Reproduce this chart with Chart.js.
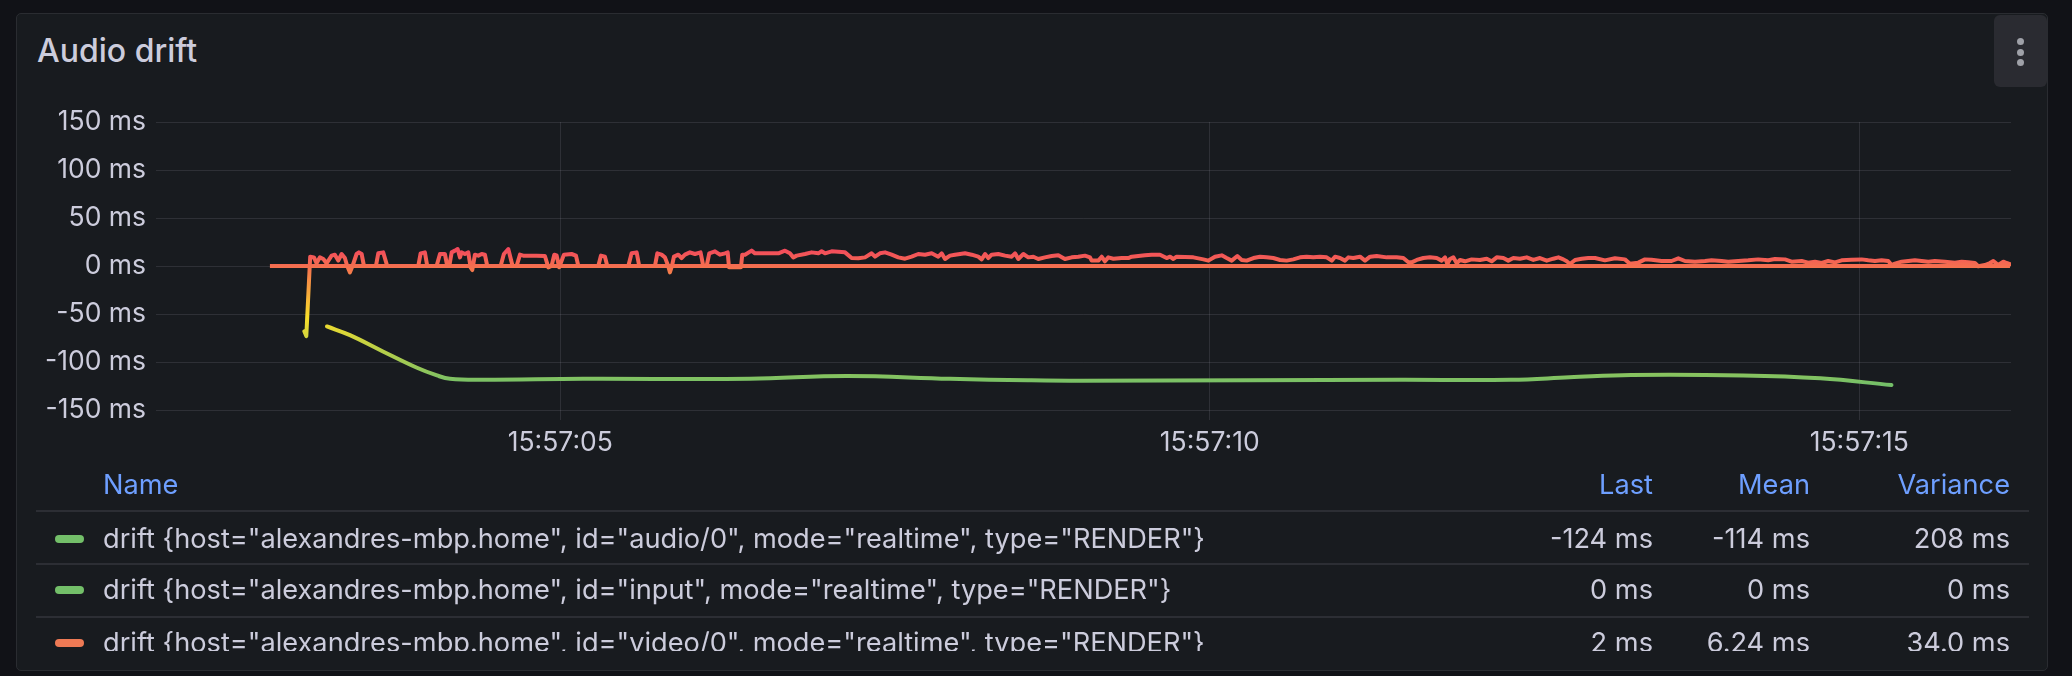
<!DOCTYPE html>
<html><head><meta charset="utf-8">
<script src="https://cdn.jsdelivr.net/npm/chart.js@4.4.1/dist/chart.umd.min.js"></script>
<style>
html,body{margin:0;padding:0;background:#111217;width:2072px;height:676px;overflow:hidden;font-family:Inter,"Noto Sans",sans-serif;}
#panel{position:absolute;left:16px;top:13px;width:2032px;height:658px;box-sizing:border-box;background:#181b1f;border:1px solid #2a2c31;border-radius:5px;}
#title{position:absolute;left:37px;top:32px;font-size:32px;line-height:38px;font-weight:500;color:#ccccdc;white-space:nowrap;}
#menu{position:absolute;left:1994px;top:15px;width:53px;height:72px;background:#2a2b31;border-radius:6px;}
#menu i{position:absolute;left:23px;width:7px;height:7px;border-radius:50%;background:#9fa1a8;}
#chart{position:absolute;left:0;top:0;}
#legend{position:absolute;left:0;top:455px;width:2072px;height:196px;overflow:hidden;}
.lt{position:absolute;font-size:27.2px;line-height:32px;white-space:nowrap;color:#ccccdc;}
.hd{color:#6e9fff;}
.sep{position:absolute;left:36px;width:1993px;height:2px;background:#2c2e34;}
.dash{position:absolute;left:55px;width:29px;height:8px;border-radius:4px;}
</style></head>
<body>
<div id="panel"></div>
<div id="title">Audio drift</div>
<div id="menu"><i style="top:23px"></i><i style="top:34px"></i><i style="top:44px"></i></div>
<canvas id="chart" width="2072" height="470"></canvas>
<div id="legend"></div>
<script>
// ---- data (seconds after 15:57:00, values in ms) ----
const timePrefix = "15:57:";
const xMin = 1.888, xMax = 16.168;
const yTickValues = [-150, -100, -50, 0, 50, 100, 150];

const videoTimes = [3.030,3.045,3.075,3.104,3.124,3.150,3.176,3.201,3.240,3.265,3.291,3.317,3.342,3.360,3.381,3.401,3.432,3.450,3.471,3.489,3.581,3.599,3.637,3.668,3.907,3.925,3.958,3.976,4.048,4.074,4.112,4.130,4.146,4.164,4.189,4.210,4.228,4.240,4.266,4.292,4.310,4.323,4.343,4.369,4.395,4.420,4.438,4.541,4.566,4.600,4.633,4.664,4.690,4.715,4.818,4.882,4.908,4.933,4.954,4.972,4.992,5.028,5.087,5.121,5.139,5.293,5.313,5.344,5.362,5.524,5.549,5.588,5.608,5.729,5.747,5.780,5.806,5.831,5.844,5.860,5.875,5.909,5.934,5.960,5.998,6.037,6.080,6.101,6.127,6.147,6.191,6.229,6.268,
6.289,6.299,6.391,6.401,6.422,6.473,6.499,6.602,6.679,6.730,6.768,6.794,6.820,6.884,6.935,6.987,7.012,7.038,7.089,7.192,7.243,7.294,7.346,7.397,7.423,7.461,7.500,7.551,7.602,7.654,7.705,7.756,7.808,7.859,7.910,7.936,7.962,8.000,8.039,8.116,8.167,8.218,8.244,8.270,8.295,8.321,8.372,8.424,8.475,8.501,8.526,8.565,8.603,8.642,8.680,8.731,8.783,8.834,8.885,8.937,8.988,9.039,9.078,9.091,9.142,9.168,9.193,9.219,9.258,9.322,9.373,9.399,9.450,9.501,9.553,9.617,
9.668,9.694,9.720,9.745,9.874,9.951,9.989,10.040,10.092,10.130,10.169,10.212,10.246,10.284,10.336,10.387,10.438,10.489,10.541,10.592,10.643,10.695,10.746,10.797,10.849,10.900,10.939,10.964,11.003,11.041,11.067,11.105,11.157,11.195,11.234,11.285,11.362,11.439,11.490,11.529,11.554,11.593,11.644,11.695,11.747,11.785,11.811,11.829,11.849,11.875,11.901,11.926,11.965,12.016,12.080,12.132,12.170,12.209,12.260,12.298,12.337,12.388,12.440,12.491,12.542,12.594,12.645,12.684,12.722,12.748,12.773,12.812,12.863,12.914,12.966,
13.042,13.119,13.196,13.234,13.299,13.350,13.401,13.478,13.555,13.607,13.658,13.735,13.812,13.863,13.940,13.991,14.068,14.145,14.222,14.299,14.351,14.428,14.479,14.556,14.607,14.659,14.710,14.761,14.813,14.864,14.941,15.018,15.069,15.121,15.172,15.223,15.249,15.274,15.326,15.377,15.428,15.480,15.531,15.582,15.659,15.736,15.788,15.839,15.890,15.916,15.967,16.006,16.032,16.070,16.109,16.135,16.160];
const videoValues = [-68,-73,9.7,9.0,2.8,9.0,7.3,2.8,10.8,11.8,5.6,12.5,8.3,0,-6.6,0,12.5,14.2,12.5,0,0,13.2,14.2,0,0,13.2,14.2,0,0,12.5,12.5,0,0,14.2,16.0,17.7,9.0,14.2,12.5,14.2,-1.4,-4.2,11.8,10.8,12.5,11.8,0,0,12.5,17.7,0,0,11.8,10.8,10.8,10.4,-1.4,0,11.8,11.1,-1.4,11.8,12.5,10.8,0,0,10.8,9.7,0,0,13.2,14.2,0,0,13.2,11.8,9.0,0,-6.6,0,9.7,11.8,8.3,11.8,14.2,12.5,14.2,0,0,13.2,15.3,11.8,13.2,
14.2,-1.4,-1.4,11.8,11.8,16.0,13.2,13.2,13.2,16.0,13.2,9.0,10.8,12.5,14.2,13.2,15.3,13.2,15.3,14.2,8.3,8.0,9.0,13.2,9.7,13.2,14.2,11.8,9.0,7.6,9.7,12.5,11.8,13.2,9.7,13.2,7.3,10.8,11.8,13.2,11.8,9.7,6.9,12.5,8.3,11.8,12.5,10.8,9.7,13.2,7.3,12.5,9.0,9.7,7.3,9.0,10.4,11.1,7.3,9.0,9.7,10.8,9.0,5.6,5.6,9.7,4.9,9.0,7.6,8.3,8.3,9.7,10.4,11.1,11.8,11.8,
8.3,9.7,7.3,9.7,9.0,6.9,5.6,9.7,11.1,8.3,5.6,10.4,6.3,5.6,8.3,9.7,9.0,8.3,6.3,5.6,6.9,9.0,9.7,9.0,9.7,9.0,5.6,9.7,8.3,5.6,9.0,8.3,9.7,5.6,9.7,10.4,9.0,9.0,8.3,3.8,3.8,6.3,8.3,9.0,8.3,5.6,9.0,2.1,7.3,9.0,2.8,6.3,4.9,6.9,6.3,7.6,4.9,9.0,8.3,5.6,8.3,7.6,9.0,6.3,8.3,5.6,7.6,9.0,6.9,4.9,2.1,6.3,7.6,8.3,8.3,
5.9,8.0,6.9,2.4,3.5,6.9,6.6,5.2,5.2,8.0,5.2,4.5,5.2,5.9,5.2,4.5,5.2,5.9,6.9,5.9,7.3,6.9,4.5,5.2,3.5,4.5,3.1,5.2,3.8,5.9,6.6,6.9,5.9,5.2,5.9,5.2,1.0,2.4,4.5,5.2,5.9,5.2,4.5,5.2,4.5,3.5,4.5,3.8,3.1,-0.3,1.0,3.1,5.2,1.0,4.5,3.1,2];

const audioTimes = [3.204,3.381,3.635,3.897,4.051,4.151,4.405,5.175,6.460,7.206,8.000,8.600,9.000,10.310,11.463,12.318,12.770,13.244,14.106,14.700,15.248];
const audioValues = [-63,-72,-89,-106,-114,-117.5,-118.5,-117.5,-117.5,-114.5,-117.5,-119,-119.5,-119,-118.5,-118.5,-116,-113.5,-114,-117,-124];

const inputTimes = [2.765, 16.160];
const inputValues = [0, 0];

const seriesNames = [
  'drift {host="alexandres-mbp.home", id="audio/0", mode="realtime", type="RENDER"}',
  'drift {host="alexandres-mbp.home", id="input", mode="realtime", type="RENDER"}',
  'drift {host="alexandres-mbp.home", id="video/0", mode="realtime", type="RENDER"}'
];
const seriesColors = ['#73bf69', '#73bf69', '#ee7a55'];
const lastValues = ['-124 ms', '0 ms', '2 ms'];
const meanValues = ['-114 ms', '0 ms', '6.24 ms'];
const varianceValues = ['208 ms', '0 ms', '34.0 ms'];
const legendHeaders = ['Name', 'Last', 'Mean', 'Variance'];

// ---- chart ----
const pts = (ts, vs) => ts.map((t, i) => ({x: t, y: vs[i]}));
const allVals = videoValues.concat(audioValues, inputValues);
const gMin = Math.min(...allVals), gMax = Math.max(...allVals);
function grad(ctx) {
  const ch = ctx.chart;
  if (!ch.chartArea) return '#ee7a55';
  const y = ch.scales.y;
  const g = ch.ctx.createLinearGradient(0, y.getPixelForValue(gMin), 0, y.getPixelForValue(gMax));
  g.addColorStop(0, '#73bf69');
  g.addColorStop(0.5, '#fade2a');
  g.addColorStop(1, '#f2495c');
  return g;
}
const gridColor = 'rgba(204,204,220,0.12)';
const tickFont = {family: 'Inter', size: 26.5};
new Chart(document.getElementById('chart'), {
  type: 'line',
  data: {datasets: [
    {label: 'video', data: pts(videoTimes, videoValues), borderColor: grad, borderWidth: 4, pointRadius: 0, tension: 0, borderJoinStyle: 'round', borderCapStyle: 'round'},
    {label: 'input', data: pts(inputTimes, inputValues), borderColor: grad, borderWidth: 4, pointRadius: 0, tension: 0},
    {label: 'audio', data: pts(audioTimes, audioValues), borderColor: grad, borderWidth: 4, pointRadius: 0, tension: 0.4, borderCapStyle: 'round'}
  ]},
  options: {
    responsive: false, animation: false,
    layout: {padding: {left: 0, top: 122, right: 61, bottom: 0}},
    plugins: {legend: {display: false}, tooltip: {enabled: false}},
    scales: {
      x: {type: 'linear', min: xMin, max: xMax,
        ticks: {stepSize: 5, includeBounds: false, autoSkip: false, maxRotation: 0, color: '#ccccdc', font: tickFont, padding: 7,
          callback: v => timePrefix + String(v).padStart(2, '0')},
        grid: {color: gridColor, tickColor: gridColor, tickLength: 10, drawTicks: true},
        border: {display: false},
        afterFit: s => { s.height = 60; }},
      y: {min: -150, max: 150,
        afterBuildTicks: s => { s.ticks = yTickValues.map(v => ({value: v})); },
        ticks: {color: '#ccccdc', font: tickFont, padding: 10, callback: v => v + ' ms'},
        grid: {color: gridColor, drawTicks: false},
        border: {display: false},
        afterFit: s => { s.width = 156; }}
    }
  }
});

// ---- legend table ----
const L = document.getElementById('legend');
const top0 = 455;
function txt(s, cls, y, left, right) {
  const d = document.createElement('div');
  d.className = 'lt ' + cls;
  d.textContent = s;
  d.style.top = (y - top0 - 16) + 'px';
  if (left != null) d.style.left = left + 'px';
  else { d.style.right = (2072 - right) + 'px'; }
  L.appendChild(d);
}
const colRight = [null, 1653, 1810, 2010];
txt(legendHeaders[0], 'hd', 485, 103);
for (let c = 1; c < 4; c++) txt(legendHeaders[c], 'hd', 485, null, colRight[c]);
const sepY = [510, 563, 616];
const rowY = [539, 590, 643];
sepY.forEach(y => { const s = document.createElement('div'); s.className = 'sep'; s.style.top = (y - top0) + 'px'; L.appendChild(s); });
seriesNames.forEach((n, i) => {
  const d = document.createElement('div'); d.className = 'dash'; d.style.background = seriesColors[i]; d.style.top = (rowY[i] - top0 - 4) + 'px'; L.appendChild(d);
  txt(n, '', rowY[i], 103);
  txt(lastValues[i], '', rowY[i], null, colRight[1]);
  txt(meanValues[i], '', rowY[i], null, colRight[2]);
  txt(varianceValues[i], '', rowY[i], null, colRight[3]);
});
</script>
</body></html>
